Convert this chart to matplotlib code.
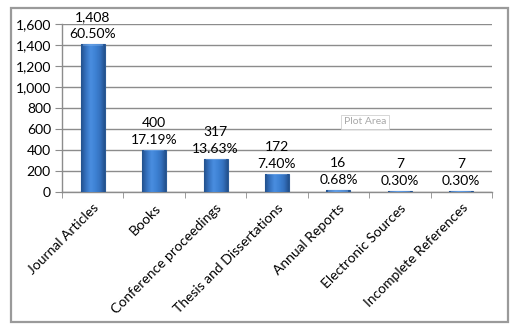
import numpy as np
import matplotlib
matplotlib.use("Agg")
import matplotlib.pyplot as plt
import matplotlib.transforms as mtransforms
from matplotlib.colors import LinearSegmentedColormap
from matplotlib.patches import Rectangle
from matplotlib.ticker import FuncFormatter, FixedLocator

categories = ["Journal Articles", "Books", "Conference proceedings",
              "Thesis and Dissertations", "Annual Reports",
              "Electronic Sources", "Incomplete References"]
counts = [1408, 400, 317, 172, 16, 7, 7]
shares = ["60.50%", "17.19%", "13.63%", "7.40%", "0.68%", "0.30%", "0.30%"]
y_ticks = [0, 200, 400, 600, 800, 1000, 1200, 1400, 1600]

plt.rcParams["font.family"] = ["Lato", "DejaVu Sans"]

fig = plt.figure(figsize=(5.11, 3.26), dpi=100)
fig.patch.set_facecolor("white")

# outer chart frame
fig.add_artist(Rectangle((11 / 511, 4 / 326), 497 / 511, 314 / 326,
                         transform=fig.transFigure, fill=False,
                         edgecolor="#9a9a9a", linewidth=1.6))

ax = fig.add_axes([62 / 511, 1 - 192 / 326, 430 / 511, 168 / 326])
x = np.arange(len(categories))
bars = ax.bar(x, counts, width=0.39, color="#3b78c6", edgecolor="#2b5a96",
              linewidth=0.8, zorder=3)

# shaded bevel on each bar
cmap = LinearSegmentedColormap.from_list(
    "bevel", ["#22508c", "#3572c0", "#4a8ee0", "#3e82d4", "#3572c0", "#22508c"])
grad = np.linspace(0, 1, 64).reshape(1, -1)
for b in bars:
    x0, w, h = b.get_x(), b.get_width(), b.get_height()
    im = ax.imshow(grad, cmap=cmap, aspect="auto", extent=(x0, x0 + w, 0, h),
                   zorder=3.5, interpolation="bicubic")
    im.set_clip_path(b)
    cap = min(h, 14)
    ax.add_patch(Rectangle((x0 + w * 0.08, h - cap), w * 0.84, cap,
                           facecolor="#8fbcf0", alpha=0.35, linewidth=0,
                           zorder=3.6))

for xi, c, s in zip(x, counts, shares):
    ax.annotate(f"{c:,}\n{s}", (xi, c), xytext=(0, 3),
                textcoords="offset points", ha="center", va="bottom",
                fontsize=10, linespacing=1.5, zorder=5)

ax.set_xlim(-0.5, len(categories) - 0.5)
ax.set_ylim(0, 1600)
ax.yaxis.set_major_locator(FixedLocator(y_ticks))
ax.yaxis.set_major_formatter(FuncFormatter(lambda v, p: f"{int(v):,}"))
ax.grid(axis="y", color="#8c8c8c", linewidth=1.0, zorder=0)
ax.set_axisbelow(True)

ax.set_xticks(x)
ax.set_xticklabels(categories, rotation=45, ha="right",
                   rotation_mode="anchor", fontsize=10)
shift = mtransforms.ScaledTranslation(5 / 72, 0, fig.dpi_scale_trans)
for lbl in ax.get_xticklabels():
    lbl.set_transform(lbl.get_transform() + shift)
ax.set_xticks(np.arange(-0.5, len(categories), 1.0), minor=True)
ax.tick_params(axis="x", which="major", length=0, pad=7)
ax.tick_params(axis="x", which="minor", length=4, color="#8c8c8c",
               direction="out")
ax.tick_params(axis="y", length=5, color="#8c8c8c", labelsize=10, pad=3)

for side in ("top", "right"):
    ax.spines[side].set_visible(False)
for side in ("left", "bottom"):
    ax.spines[side].set_color("#8c8c8c")
    ax.spines[side].set_linewidth(1.0)

ax.text(4.43, 667, "Plot Area", fontsize=7.5, color="#a8a8a8", ha="center",
        va="center", zorder=6,
        bbox=dict(boxstyle="square,pad=0.25", facecolor="white",
                  edgecolor="#d0d0d0", linewidth=0.6))

fig.savefig("out.png", dpi=100, facecolor="white")
